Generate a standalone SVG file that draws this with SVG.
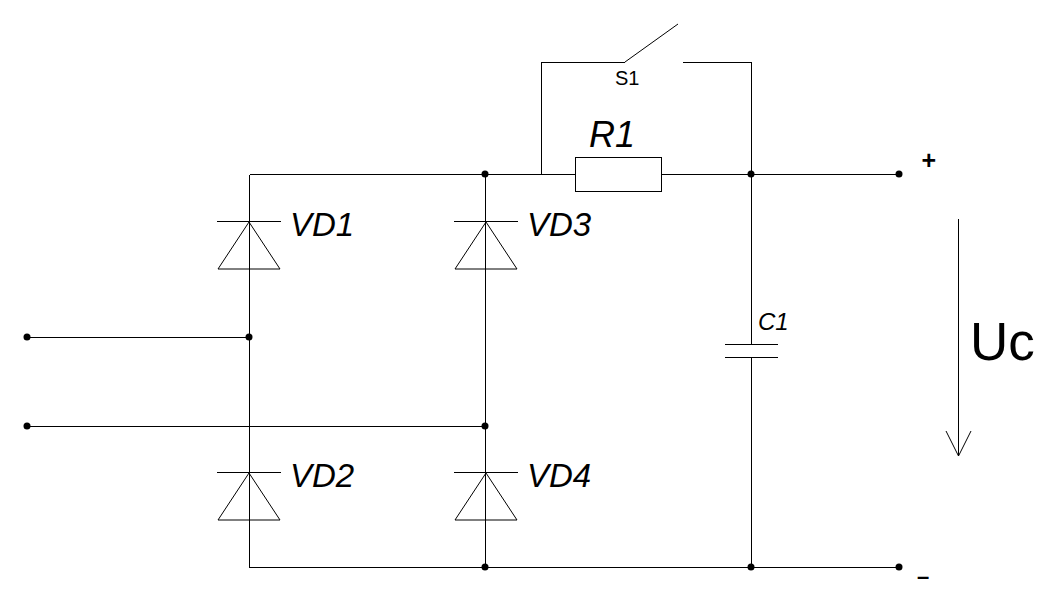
<svg xmlns="http://www.w3.org/2000/svg" width="1057" height="602" viewBox="0 0 1057 602">
<defs>
<style>
.w{fill:none;stroke:#000;stroke-width:1.4;shape-rendering:crispEdges}
.t{fill:none;stroke:#000;stroke-width:1}
.d{fill:#000}
text{font-family:"Liberation Sans",Arial,sans-serif;fill:#000}
.i{font-style:italic;font-size:33px}
</style>
<g id="diode"><path class="t" d="M-32 -.5H32M0 0L-31 47H31Z"/></g>
</defs>
<rect width="1057" height="602" fill="#fff"/>
<g id="connectors">
<path class="w" d="M249.500 174.500H575M662 174.500H899M249.500 174.500V567.500H899M485.500 174.500V567.500M751.500 62.500V344M751.500 358V567.500M27 337.500H249.500M27 426.500H485.500"/>
<path class="w" d="M541.500 174.500V62.500H625M683 62.500H751.500"/>
<path class="t" d="M625 62L678 24"/>
<path class="w" d="M958.500 219V456"/>
<path class="t" d="M946 431L958.500 456L971 431"/>
</g>
<g id="R1"><rect class="w" x="575.500" y="157.500" width="86" height="34"/><text x="589" y="147" font-size="36" font-style="italic">R1</text></g>
<g id="S1"><text x="615" y="85" font-size="20">S1</text></g>
<g id="VD1"><use href="#diode" x="249" y="222"/><text class="i" x="290" y="236">VD1</text></g>
<g id="VD3"><use href="#diode" x="486" y="222"/><text class="i" x="527" y="236">VD3</text></g>
<g id="VD2"><use href="#diode" x="249" y="473"/><text class="i" x="290" y="487">VD2</text></g>
<g id="VD4"><use href="#diode" x="486" y="473"/><text class="i" x="527" y="487">VD4</text></g>
<g id="C1"><path class="w" d="M725 344.500H778M725 357.500H778"/><text x="758" y="330" font-size="24" font-style="italic">C1</text></g>
<g id="junctions">
<circle class="d" cx="485" cy="174" r="3.500"/><circle class="d" cx="751" cy="174" r="3.500"/><circle class="d" cx="899" cy="174" r="3.500"/>
<circle class="d" cx="249" cy="337" r="3.500"/><circle class="d" cx="27" cy="337" r="3.500"/><circle class="d" cx="27" cy="426" r="3.500"/><circle class="d" cx="485" cy="426" r="3.500"/>
<circle class="d" cx="485" cy="567" r="3.500"/><circle class="d" cx="751" cy="567" r="3.500"/><circle class="d" cx="899" cy="567" r="3.500"/>
</g>
<g id="labels">
<text x="921.500" y="168.500" font-size="25" font-weight="bold">+</text>
<text x="917" y="584" font-size="22" font-weight="bold">–</text>
<text x="970" y="360" font-size="53">Uc</text>
</g>
</svg>
